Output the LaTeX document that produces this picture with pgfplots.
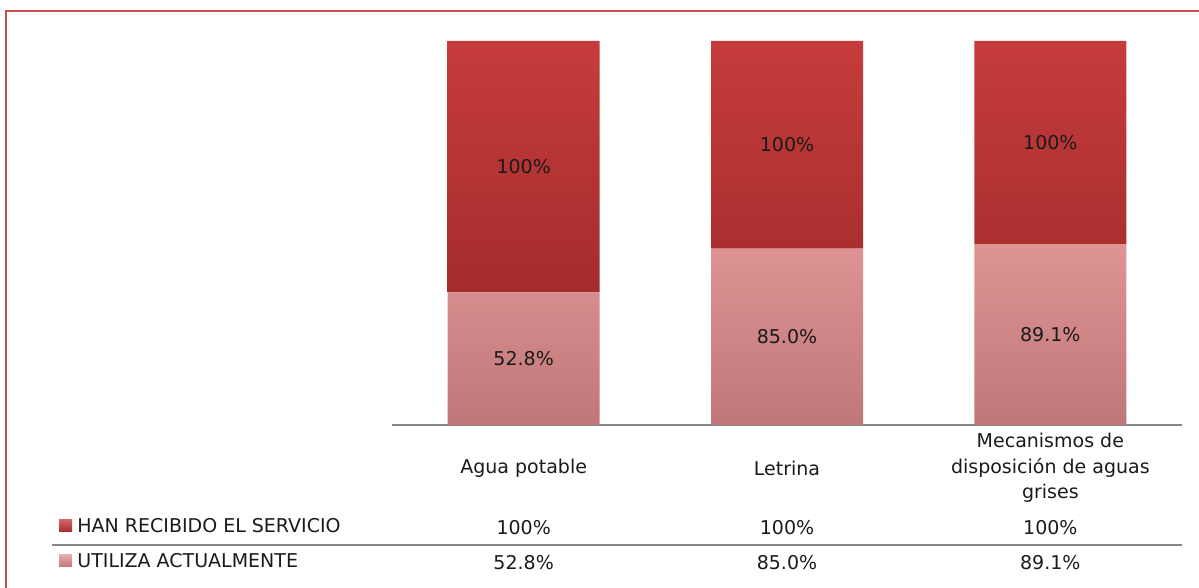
\documentclass[border=0pt]{standalone}
\usepackage{fontspec}
\setmainfont{DejaVu Sans}
\usepackage{pgfplots}
\pgfplotsset{compat=1.18}

\definecolor{frame}{HTML}{C9504F}
\definecolor{hanTop}{HTML}{C63C3C}
\definecolor{hanBot}{HTML}{A52C2C}
\definecolor{utiTop}{HTML}{DF9494}
\definecolor{utiBot}{HTML}{C07777}
\definecolor{axisgray}{HTML}{868686}
\definecolor{txt}{HTML}{1A1A1A}

\begin{document}
\begin{tikzpicture}[font=\fontsize{9.5}{12.75}\selectfont]
\useasboundingbox (0,0) rectangle (599.5pt,294pt);
% frame (top and left only)
\draw[frame, line width=1pt] (2.75pt,0) -- (2.75pt,288.5pt) -- (599.5pt,288.5pt);

\begin{axis}[
    at={(196pt,81.5pt)}, anchor=south west,
    scale only axis, width=395pt, height=192pt,
    ybar stacked, bar width=76pt,
    xmin=-0.5, xmax=2.5, ymin=0, ymax=100,
    axis x line*=bottom, axis y line=none,
    x axis line style={axisgray, line width=0.8pt},
    xtick={0,1,2}, major tick length=0pt,
    xticklabels={Agua potable, Letrina, {Mecanismos de\\disposición de aguas\\grises}},
    xticklabel style={align=center, anchor=center, yshift=-21.5pt, text=txt,
        font=\fontsize{9.5}{12.75}\selectfont},
    clip=false,
    point meta=explicit symbolic,
    nodes near coords,
    every node near coord/.append style={anchor=center, text=txt,
        font=\fontsize{9.5}{12.75}\selectfont},
]
% UTILIZA ACTUALMENTE (share of the bar: 52.8/152.8, 85/185, 89.1/189.1)
\addplot[draw=none, top color=utiTop, bottom color=utiBot] coordinates {
    (0,34.55) [52.8\%]
    (1,45.95) [85.0\%]
    (2,47.12) [89.1\%]
};
% HAN RECIBIDO EL SERVICIO
\addplot[draw=none, top color=hanTop, bottom color=hanBot] coordinates {
    (0,65.45) [100\%]
    (1,54.05) [100\%]
    (2,52.88) [100\%]
};

% data table rows
\node[txt] at (axis cs:0,-26.6) {100\%};
\node[txt] at (axis cs:1,-26.6) {100\%};
\node[txt] at (axis cs:2,-26.6) {100\%};
\node[txt] at (axis cs:0,-35.7) {52.8\%};
\node[txt] at (axis cs:1,-35.7) {85.0\%};
\node[txt] at (axis cs:2,-35.7) {89.1\%};
\end{axis}

% table separator and row headers
\draw[axisgray, line width=0.8pt] (26pt,21.5pt) -- (591pt,21.5pt);
\shade[top color=hanTop!80!white, bottom color=hanBot] (29.5pt,28pt) rectangle ++(6.5pt,6pt);
\shade[top color=utiTop!80!white, bottom color=utiBot] (29.5pt,10.5pt) rectangle ++(6.5pt,6pt);
\node[txt, anchor=west, inner sep=0pt] at (38.5pt,31pt) {HAN RECIBIDO EL SERVICIO};
\node[txt, anchor=west, inner sep=0pt] at (38.5pt,13.5pt) {UTILIZA ACTUALMENTE};
\end{tikzpicture}
\end{document}
